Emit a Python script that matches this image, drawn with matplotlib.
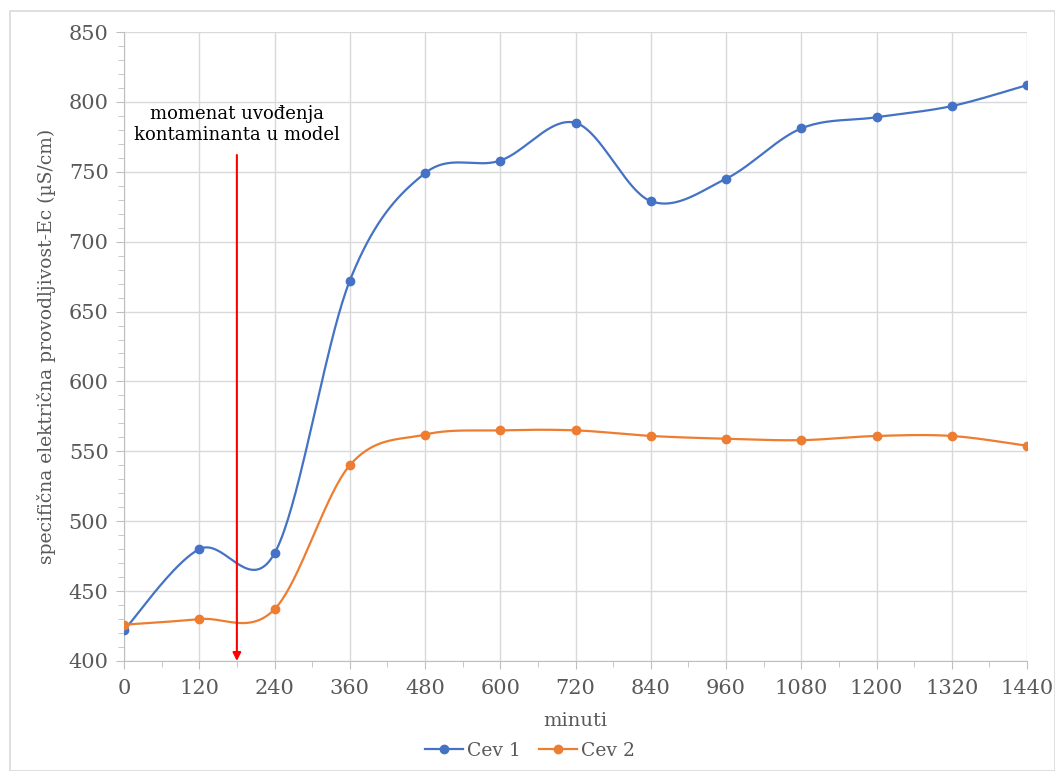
import numpy as np
import matplotlib
matplotlib.use("Agg")
import matplotlib.pyplot as plt
from matplotlib.patches import Rectangle
from matplotlib.ticker import MultipleLocator

minutes = [0, 120, 240, 360, 480, 600, 720, 840, 960, 1080, 1200, 1320, 1440]
cev1 = [422, 480, 477, 672, 749, 758, 785, 729, 745, 781, 789, 797, 812]
cev2 = [426, 430, 437, 540, 562, 565, 565, 561, 559, 558, 561, 561, 554]
series_names = ["Cev 1", "Cev 2"]
colors = ["#4472C4", "#ED7D31"]
x_ticks = list(range(0, 1441, 120))
y_ticks = list(range(400, 851, 50))
annot_x = 180
annot_top = 762
annot_text = "momenat uvođenja\nkontaminanta u model"

plt.rcParams['font.family'] = ['DejaVu Serif']


def smooth(xs, ys, n=40):
    P = np.column_stack([xs, ys]).astype(float)
    m = len(P)
    out = []
    for i in range(m - 1):
        p0 = P[i - 1] if i > 0 else P[i]
        p1 = P[i]
        p2 = P[i + 1]
        p3 = P[i + 2] if i + 2 < m else P[i + 1]
        c1 = p1 + (p2 - p0) / 6.0
        c2 = p2 - (p3 - p1) / 6.0
        t = np.linspace(0, 1, n)[:, None]
        seg = ((1 - t) ** 3) * p1 + 3 * ((1 - t) ** 2) * t * c1 + 3 * (1 - t) * t ** 2 * c2 + t ** 3 * p2
        if i > 0:
            seg = seg[1:]
        out.append(seg)
    out = np.vstack(out)
    return out[:, 0], out[:, 1]


fig = plt.figure(figsize=(10.55, 7.71), dpi=100)
fig.patches.append(Rectangle((10 / 1055, 0), 1 - 10 / 1055, 1 - 11 / 771, transform=fig.transFigure,
                             fill=False, edgecolor="#d9d9d9", linewidth=1.2))
ax = fig.add_axes([124 / 1055, 1 - 661 / 771, (1027 - 124) / 1055, (661 - 32) / 771])

for name, ys, c in zip(series_names, [cev1, cev2], colors):
    sx, sy = smooth(minutes, ys)
    ax.plot(sx, sy, color=c, linewidth=1.6, zorder=3)
    ax.plot(minutes, ys, 'o', color=c, markersize=6, zorder=4)
    ax.plot([], [], '-o', color=c, linewidth=1.6, markersize=6, label=name)

ax.set_xlim(0, 1440)
ax.set_ylim(400, 850)
ax.set_xticks(x_ticks)
ax.set_yticks(y_ticks)
ax.xaxis.set_minor_locator(MultipleLocator(60))
ax.yaxis.set_minor_locator(MultipleLocator(10))
ax.grid(True, which='major', color='#d9d9d9', linewidth=1)
ax.set_axisbelow(True)
for s in ['top', 'right']:
    ax.spines[s].set_visible(False)
for s in ['left', 'bottom']:
    ax.spines[s].set_color('#bfbfbf')
ax.tick_params(axis='both', which='both', colors='#bfbfbf', labelcolor='#595959', labelsize=15)
ax.tick_params(axis='x', which='major', length=6, direction='out', pad=7)
ax.tick_params(axis='x', which='minor', length=4, direction='out')
ax.tick_params(axis='y', which='major', length=6, direction='out', pad=5)
ax.tick_params(axis='y', which='minor', length=4, direction='out')

ax.set_xlabel("minuti", fontsize=14, color='#595959', labelpad=10)
ax.set_ylabel("specifična električna provodljivost-Ec (µS/cm)", fontsize=13.5, color='#595959', labelpad=9)

ax.annotate("", xy=(annot_x, 400), xytext=(annot_x, annot_top),
            arrowprops=dict(arrowstyle='-|>', color='red', lw=1.5, mutation_scale=12, shrinkA=0, shrinkB=0),
            zorder=5)
ax.text(annot_x, annot_top + 8, annot_text, ha='center', va='bottom', fontsize=13, color='black',
        linespacing=1.2)

leg = fig.legend(loc='center', bbox_to_anchor=(530 / 1055, 1 - 751 / 771), ncol=2, frameon=False,
                 fontsize=13.5, handlelength=2.0, columnspacing=1.0, handletextpad=0.2)
for t in leg.get_texts():
    t.set_color('#595959')

fig.savefig("out.png", dpi=100)
